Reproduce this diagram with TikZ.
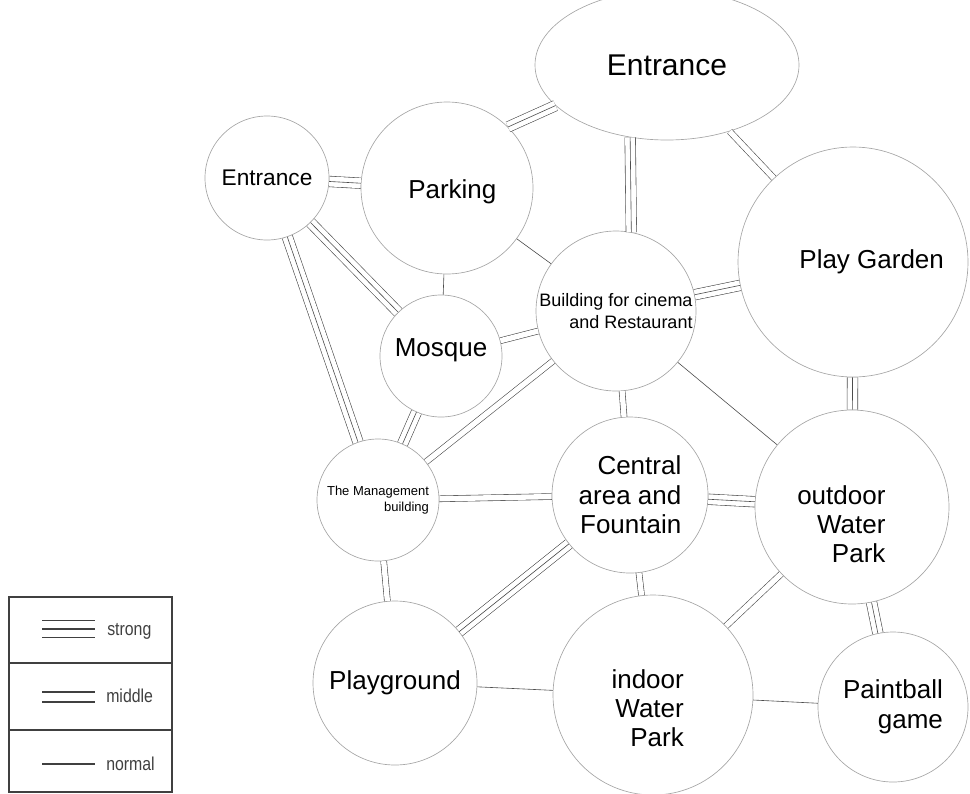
\documentclass[tikz,border=0pt]{standalone}
\usepackage{fontspec}
\setmainfont{Liberation Sans}
\newfontfamily\narrowfont[FakeStretch=0.85]{Liberation Sans}
\usetikzlibrary{shapes.geometric}

\begin{document}
\begin{tikzpicture}[x=0.75pt,y=-0.75pt,
    place/.style={circle,draw=gray!70,line width=0.5pt,inner sep=0pt,align=right,text=black},
    big/.style={font=\fontsize{19.5}{22}\selectfont},
    inside/.style={align=right,text=black,inner sep=0pt,font=\fontsize{19.5}{21.5}\selectfont},
    normal/.style={draw=gray!60!black,line width=0.45pt},
    middle/.style={normal,double=white,double distance=4pt},
    strong/.style={middle,double distance=7.5pt,postaction={draw=gray!60!black,line width=0.45pt}},
    key/.style={draw=gray!50!black,line width=1.1pt},
    keytext/.style={anchor=base west,inner sep=0pt,text=black!75,font=\narrowfont\fontsize{14}{16}\selectfont}]

  \useasboundingbox (0,0) rectangle (970,793);

  % places
  \node[place,minimum size=93pt,font=\fontsize{17}{20}\selectfont] (entL) at (267,178) {Entrance};
  \node[place,minimum size=129pt,label={[inside,xshift=4pt,yshift=-3pt]center:Parking}] (park) at (447,188) {};
  \node[ellipse,draw=gray!70,line width=0.5pt,minimum width=198pt,minimum height=112.5pt,
        font=\fontsize{22.5}{26}\selectfont] (etop) at (667,65) {Entrance};
  \node[place,minimum size=172.5pt,label={[inside,xshift=14pt]center:Play Garden}] (play) at (853,262) {};
  \node[place,minimum size=120pt,font=\fontsize{13.5}{16.5}\selectfont] (build) at (616,311) {Building for cinema\\and Restaurant};
  \node[place,minimum size=91.5pt,label={[inside,yshift=4pt]center:Mosque}] (mosq) at (441,356) {};
  \node[place,minimum size=91.5pt,font=\fontsize{9.75}{12}\selectfont] (mgmt) at (378,500) {The Management\\building};
  \node[place,minimum size=117pt,font=\fontsize{19.5}{22}\selectfont] (cent) at (630,495) {Central\\area and\\Fountain};
  \node[place,minimum size=145.5pt,label={[inside,font=\fontsize{19.5}{22}\selectfont,xshift=-8pt,yshift=-13pt]center:{outdoor\\Water\\Park}}] (outd) at (852,507) {};
  \node[place,big,minimum size=123pt] (plgd) at (395,683) {Playground};
  \node[place,minimum size=150pt,label={[inside,xshift=-4pt,yshift=-10pt]center:{indoor\\Water\\Park}}] (indr) at (653,695) {};
  \node[place,minimum size=112.5pt,font=\fontsize{19.5}{22.5}\selectfont] (pball) at (893,707) {Paintball\\game};

  % links
  \path (entL) edge[strong] (park)
        (entL) edge[strong] (mosq)
        (entL) edge[strong] (mgmt)
        (park) edge[normal] (mosq)
        (park) edge[normal] (build)
        (park.45) edge[strong] (etop.200)
        (etop.243) edge[strong] (build.79)
        (etop) edge[middle] (play)
        (build) edge[strong] (play)
        (mosq) edge[middle] (build)
        (mosq) edge[strong] (mgmt)
        (build) edge[middle] (mgmt)
        (build) edge[middle] (cent)
        (build) edge[normal] (outd)
        (play) edge[strong] (outd)
        (mgmt) edge[middle] (cent)
        (mgmt) edge[middle] (plgd)
        (cent) edge[strong] (outd)
        (cent) edge[strong] (plgd)
        (cent) edge[middle] (indr)
        (outd) edge[middle] (indr)
        (outd) edge[strong] (pball)
        (plgd) edge[normal] (indr)
        (indr) edge[normal] (pball);

  % legend
  \draw[gray!50!black,line width=0.9pt] (9,597) rectangle (172,792)
        (9,663) -- (172,663) (9,730) -- (172,730);
  \coordinate (s1) at (42,629); \coordinate (s2) at (95,629);
  \coordinate (m1) at (42,697); \coordinate (m2) at (95,697);
  \coordinate (n1) at (42,764); \coordinate (n2) at (95,764);
  \draw[key,double=white,double distance=11.6pt,postaction={draw=gray!50!black,line width=1.1pt}] (s1) -- (s2);
  \draw[key,double=white,double distance=6.4pt] (m1) -- (m2);
  \draw[key] (n1) -- (n2);
  \node[keytext] (strong) at (107,635) {strong};
  \node[keytext] (middle) at (106,702) {middle};
  \node[keytext] (normal) at (106,770) {normal};
\end{tikzpicture}
\end{document}
